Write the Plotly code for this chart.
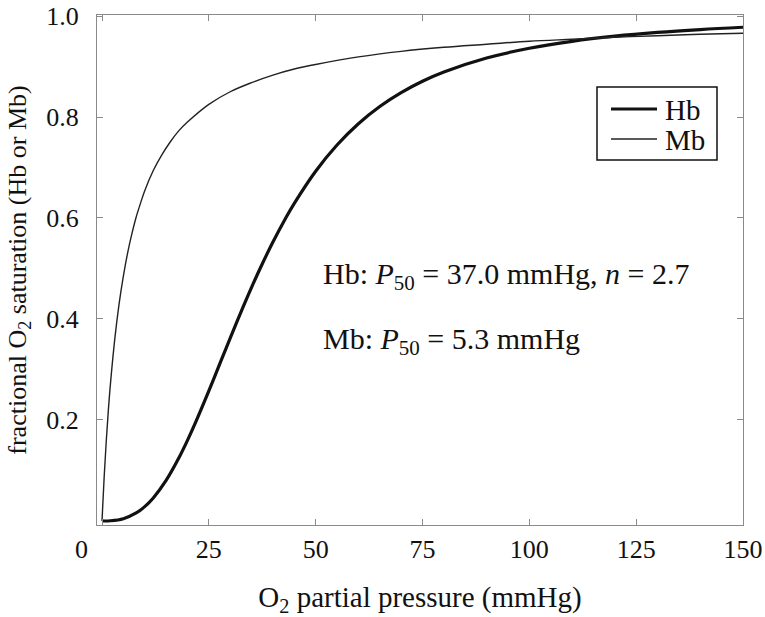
import plotly.graph_objects as go

# O2 partial pressure (mmHg) sample points and saturations
hb_po2 = [0, 2, 5, 8, 10, 12, 15, 18, 20, 22, 25, 28, 30, 33, 35, 37, 40, 43, 45,
          50, 55, 60, 65, 70, 75, 80, 90, 100, 110, 120, 130, 140, 150]
hb_sat = [0.0, 0.0004, 0.0045, 0.0158, 0.0284, 0.0456, 0.0803, 0.1251, 0.1596,
          0.1972, 0.2576, 0.3203, 0.3621, 0.4234, 0.4626, 0.5, 0.5524, 0.6001,
          0.6291, 0.6927, 0.7446, 0.7867, 0.8208, 0.8483, 0.8708, 0.8891, 0.9168,
          0.9361, 0.9499, 0.9600, 0.9675, 0.9732, 0.9777]

mb_po2 = [0, 0.5, 1, 1.5, 2, 3, 4, 5, 6, 7, 8, 9, 10, 12, 14, 16, 18, 20, 25, 30,
          35, 40, 45, 50, 60, 70, 80, 90, 100, 110, 120, 130, 140, 150]
mb_sat = [0.0, 0.086, 0.159, 0.221, 0.274, 0.361, 0.430, 0.485, 0.531, 0.569,
          0.602, 0.629, 0.654, 0.694, 0.725, 0.751, 0.773, 0.790, 0.825, 0.850,
          0.868, 0.883, 0.895, 0.904, 0.919, 0.930, 0.938, 0.944, 0.950, 0.954,
          0.958, 0.961, 0.964, 0.966]

series_names = ["Hb", "Mb"]
x_ticks = [0, 25, 50, 75, 100, 125, 150]
y_ticks = [0.2, 0.4, 0.6, 0.8, 1.0]

FONT = "Liberation Serif, Times New Roman, serif"
INK = "#111111"
AX = "#8a8a8a"

W, H = 765, 617
L, T, R, B = 97, 15, 22, 92
PW, PH = W - L - R, H - T - B


def px(xp):
    return (xp - L) / PW


def py(yp):
    return 1 - (yp - T) / PH


hb_line = dict(color=INK, width=3.2)
mb_line = dict(color="#222222", width=1.4)

fig = go.Figure()
fig.add_trace(go.Scatter(x=hb_po2, y=hb_sat, mode="lines", name=series_names[0],
                         line=dict(**hb_line, shape="spline"), showlegend=False))
fig.add_trace(go.Scatter(x=mb_po2, y=mb_sat, mode="lines", name=series_names[1],
                         line=dict(**mb_line, shape="spline"), showlegend=False))

axis_common = dict(showline=True, linecolor=AX, linewidth=1.2, mirror="ticks",
                   ticks="inside", ticklen=6, tickcolor=AX, tickwidth=1,
                   showgrid=False, zeroline=False, automargin=False,
                   ticklabeloverflow="allow",
                   tickfont=dict(family=FONT, size=26, color=INK))

fig.update_xaxes(range=[-1.17, 150], tickvals=x_ticks,
                 ticktext=["" if v == 0 else str(v) for v in x_ticks],
                 ticklabelstandoff=1,
                 title=dict(text="O<sub>2</sub> partial pressure (mmHg)",
                            font=dict(family=FONT, size=29, color=INK),
                            standoff=24),
                 **axis_common)
fig.update_yaxes(range=[-0.008, 1.002], tickvals=y_ticks,
                 ticktext=[f"{v:.1f}" for v in y_ticks],
                 ticklabelstandoff=12,
                 title=dict(text="fractional O<sub>2</sub> saturation (Hb or Mb)",
                            font=dict(family=FONT, size=26, color=INK),
                            standoff=12),
                 **axis_common)

# "0" label of the x axis sits left of its tick in the reference
fig.add_annotation(x=px(81), y=py(549), xref="paper", yref="paper",
                   xanchor="center", yanchor="middle", text="0", showarrow=False,
                   font=dict(family=FONT, size=26, color=INK))

fig.add_annotation(x=px(321), y=py(276), xref="paper", yref="paper",
                   xanchor="left", yanchor="middle",
                   text="Hb: <i>P</i><sub>50</sub> = 37.0 mmHg, <i>n</i> = 2.7",
                   showarrow=False, font=dict(family=FONT, size=30, color=INK))
fig.add_annotation(x=px(321), y=py(341), xref="paper", yref="paper",
                   xanchor="left", yanchor="middle",
                   text="Mb: <i>P</i><sub>50</sub> = 5.3 mmHg",
                   showarrow=False, font=dict(family=FONT, size=30, color=INK))

# legend box drawn to match the reference's compact layout
fig.add_shape(type="rect", xref="paper", yref="paper",
              x0=px(597), x1=px(717), y0=py(87), y1=py(160),
              line=dict(color=INK, width=1.5), fillcolor="white", layer="above")
for name, ln, yp in [(series_names[0], hb_line, 109), (series_names[1], mb_line, 139)]:
    fig.add_shape(type="line", xref="paper", yref="paper",
                  x0=px(611), x1=px(657), y0=py(yp), y1=py(yp), line=ln, layer="above")
    fig.add_annotation(x=px(663), y=py(yp + 1), xref="paper", yref="paper",
                       xanchor="left", yanchor="middle", text=name, showarrow=False,
                       font=dict(family=FONT, size=29, color=INK))

fig.update_layout(
    width=W, height=H,
    margin=dict(l=L, r=R, t=T, b=B, autoexpand=False),
    paper_bgcolor="white", plot_bgcolor="white",
    showlegend=False,
)

fig.write_html("out.html",
               config={"displayModeBar": False},
               post_script="document.body.style.margin='0';"
                           "document.body.style.overflow='hidden';")
